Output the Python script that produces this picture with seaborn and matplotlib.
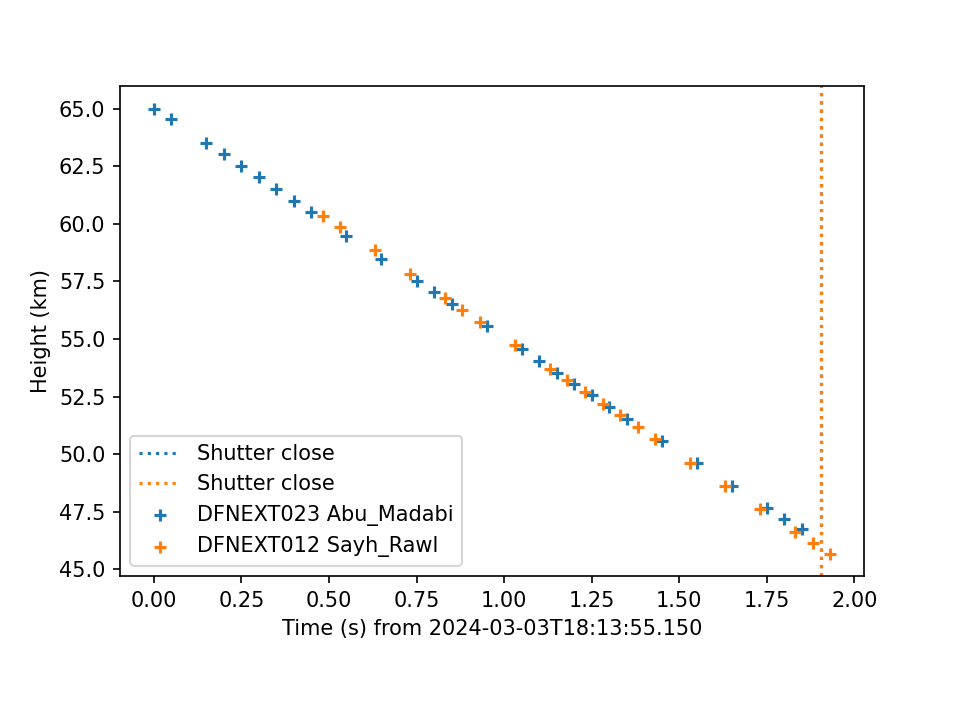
import numpy as np
import pandas as pd
import matplotlib
matplotlib.use("Agg")
import matplotlib.pyplot as plt
import seaborn as sns

# station 1 (blue)
t_abu = [0.0, 0.05, 0.15, 0.2, 0.25, 0.3, 0.35, 0.4, 0.45, 0.55, 0.65, 0.75, 0.8, 0.85,
         0.95, 1.05, 1.1, 1.15, 1.2, 1.25, 1.3, 1.35, 1.45, 1.55, 1.65, 1.75, 1.8, 1.85]
h_abu = [65.0, 64.56, 63.5, 63.04, 62.5, 62.04, 61.5, 61.0, 60.5, 59.47, 58.47, 57.51, 57.03, 56.51,
         55.55, 54.55, 54.03, 53.51, 53.03, 52.55, 52.03, 51.55, 50.59, 49.60, 48.64, 47.68, 47.20, 46.74]

# station 2 (orange)
t_sayh = [0.483, 0.531, 0.631, 0.731, 0.831, 0.881, 0.931, 1.031, 1.131, 1.181, 1.231,
          1.281, 1.331, 1.381, 1.431, 1.531, 1.631, 1.731, 1.831, 1.881, 1.931]
h_sayh = [60.35, 59.88, 58.87, 57.81, 56.78, 56.26, 55.74, 54.74, 53.70, 53.22, 52.70,
          52.17, 51.70, 51.16, 50.65, 49.64, 48.64, 47.64, 46.64, 46.16, 45.68]

shutter_close = [1.906, 1.906]
labels = ["DFNEXT023 Abu_Madabi", "DFNEXT012 Sayh_Rawl"]
colors = ["tab:blue", "tab:orange"]

fig, ax = plt.subplots(figsize=(6.4, 4.8), dpi=150)
fig.subplots_adjust(bottom=0.2)

for x, c in zip(shutter_close, colors):
    ax.axvline(x, color=c, linestyle=":", label="Shutter close")

sns.scatterplot(x=t_abu, y=h_abu, marker="+", s=36, linewidth=1.5, color=colors[0],
                label=labels[0], ax=ax)
sns.scatterplot(x=t_sayh, y=h_sayh, marker="+", s=36, linewidth=1.5, color=colors[1],
                label=labels[1], ax=ax)

ax.set_xlabel("Time (s) from 2024-03-03T18:13:55.150")
ax.set_ylabel("Height (km)")
ax.legend(loc="lower left")

fig.savefig("out.png", dpi=150)
